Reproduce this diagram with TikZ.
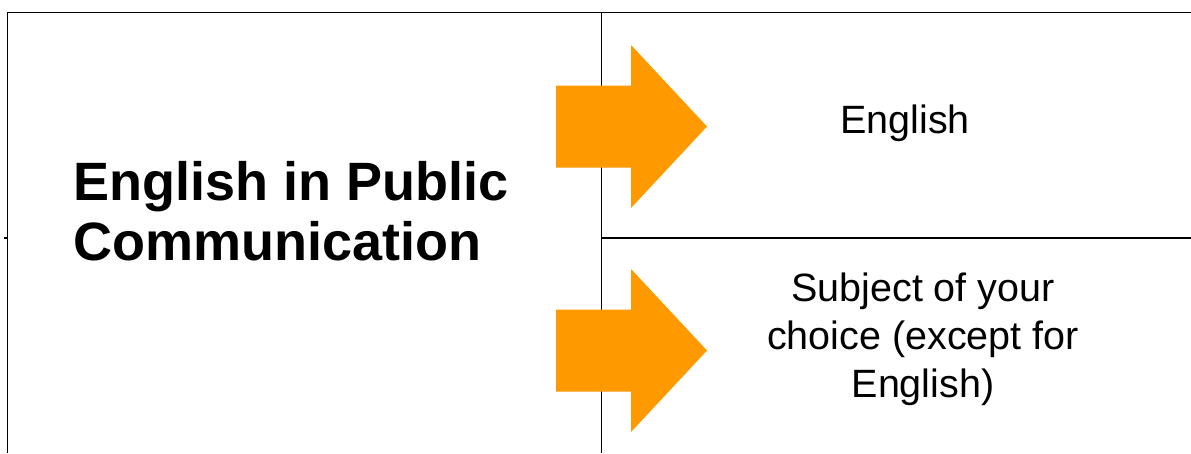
\documentclass[tikz,border=0pt]{standalone}
\usepackage{fontspec}
\setmainfont{Liberation Sans}
\usepackage{xcolor}
\definecolor{arroworange}{HTML}{FF9900}

\begin{document}
\begin{tikzpicture}[
    x=1pt, y=-1pt,
    grid/.style = {draw=black, line width=1.3pt},
    outer/.style = {draw=black, line width=1.9pt},
    fatarrow/.style = {fill=arroworange, draw=none},
    title/.style = {inner sep=0pt, align=left, font=\bfseries\fontsize{54}{60}\selectfont},
    cell/.style = {inner sep=0pt, align=center, font=\fontsize{39.5}{48}\selectfont}]
    \useasboundingbox (0,0) rectangle (1191,453);
    % COORDINATES
    % corners of the table
    \coordinate (topleft) at (7.5,12.5);
    \coordinate (topright) at (1191,12.5);
    \coordinate (botleft) at (7.5,453);
    \coordinate (divtop) at (601.5,12.5);
    \coordinate (divbot) at (601.5,453);
    \coordinate (midleft) at (601.5,238);
    \coordinate (midright) at (1191,238);
    \coordinate (tickleft) at (4,238);
    \coordinate (tickright) at (7.5,238);

    % LINES
    \draw[outer] (botleft) -- (topleft) -- (topright);
    \draw[grid] (divtop) -- (divbot);
    \draw[grid] (midleft) -- (midright);
    \draw[grid] (tickleft) -- (tickright);

    % ARROWS
    \foreach \yc in {126.5, 350.5}
        \fill[fatarrow] (556,\yc-41) -- (631,\yc-41) -- (631,\yc-81.5)
            -- (707,\yc) -- (631,\yc+81.5) -- (631,\yc+41) -- (556,\yc+41) -- cycle;

    % NODES
    % subject title
    \node[title, anchor=west] (Title) at (73,211.5) {English in Public\\Communication};
    % upper cell
    \node[cell, anchor=base] (Eng) at (905,133) {English};
    % lower cell
    \node[cell, anchor=center] (Choice) at (923,339) {Subject of your\\choice (except for\\English)};
\end{tikzpicture}
\end{document}
